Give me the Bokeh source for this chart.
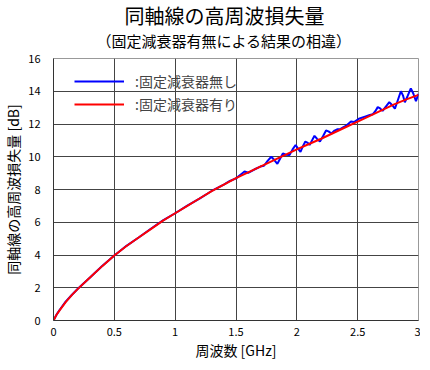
from bokeh.plotting import figure
from bokeh.models import Range1d, FixedTicker, Title, Legend, LegendItem
from bokeh.embed import file_html
from bokeh.resources import INLINE

FONT = "Noto Sans CJK JP"

title_text = "同軸線の高周波損失量"
subtitle_text = "（固定減衰器有無による結果の相違）"
x_label = "周波数 [GHz]"
y_label = "同軸線の高周波損失量 [dB]"
series_names = [":固定減衰器無し", ":固定減衰器有り"]

x_ticks = [0, 0.5, 1, 1.5, 2, 2.5, 3]
x_tick_labels = ["0", "0.5", "1", "1.5", "2", "2.5", "3"]
y_ticks = [0, 2, 4, 6, 8, 10, 12, 14, 16]
y_tick_labels = ["0", "2", "4", "6", "8", "10", "12", "14", "16"]

# without fixed attenuator (blue)
freq_blue = [0, 0.025, 0.05, 0.1, 0.15, 0.2, 0.3, 0.4, 0.5, 0.6, 0.7, 0.8, 0.9, 1.0, 1.1, 1.2, 1.3,
             1.4, 1.45, 1.5, 1.55, 1.57, 1.6, 1.65, 1.7, 1.73, 1.76, 1.79, 1.815, 1.84, 1.86,
             1.885, 1.91, 1.94, 1.965, 1.99, 2.01, 2.03, 2.05, 2.07, 2.09, 2.105, 2.125, 2.145,
             2.165, 2.19, 2.215, 2.24, 2.26, 2.285, 2.31, 2.335, 2.36, 2.38, 2.41, 2.445, 2.47,
             2.51, 2.56, 2.6, 2.625, 2.645, 2.665, 2.685, 2.705, 2.73, 2.76, 2.785, 2.806, 2.83,
             2.855, 2.872, 2.888, 2.91, 2.937, 2.958, 2.979, 3.0]
loss_blue = [0, 0.36, 0.64, 1.15, 1.56, 1.94, 2.63, 3.33, 3.97, 4.56, 5.07, 5.6, 6.11, 6.55, 7.02, 7.44, 7.91,
             8.3, 8.52, 8.68, 8.98, 9.1, 9.02, 9.22, 9.4, 9.45, 9.75, 10.0, 9.8, 9.57, 9.85,
             10.2, 10.12, 10.1, 10.45, 10.72, 10.5, 10.3, 10.65, 10.93, 10.85, 10.72, 11.0, 11.28,
             11.1, 10.93, 11.25, 11.6, 11.55, 11.42, 11.6, 11.68, 11.7, 11.8, 11.92, 12.15, 12.12,
             12.32, 12.45, 12.55, 12.6, 12.78, 13.03, 12.95, 12.8, 13.05, 13.33, 13.15, 12.93, 13.45,
             14.0, 13.75, 13.33, 13.7, 14.18, 13.85, 13.4, 13.84]

# with fixed attenuator (red)
freq_red = [0, 0.025, 0.05, 0.1, 0.15, 0.2, 0.3, 0.4, 0.5, 0.6, 0.7, 0.8, 0.9, 1.0, 1.1, 1.2, 1.3, 1.4,
            1.5, 1.6, 1.7, 1.8, 1.9, 2.0, 2.1, 2.2, 2.3, 2.4, 2.5, 2.6, 2.7, 2.8, 2.9, 3.0]
loss_red = [0, 0.35, 0.62, 1.12, 1.55, 1.93, 2.63, 3.32, 3.97, 4.55, 5.07, 5.58, 6.1, 6.55, 7.0, 7.45, 7.9, 8.3,
            8.7, 9.05, 9.4, 9.75, 10.1, 10.45, 10.78, 11.1, 11.45, 11.8, 12.15, 12.5, 12.85, 13.2, 13.5, 13.78]

p = figure(width=420, height=362, output_backend="svg", toolbar_location=None,
           x_range=Range1d(0, 3), y_range=Range1d(0, 16),
           min_border_left=0, min_border_right=2, min_border_top=48, min_border_bottom=0)
p.title = None

sub = Title(text=subtitle_text, align="left", vertical_align="bottom", text_font=FONT,
            text_font_size="15px", text_font_style="normal", text_color="#000000",
            standoff=16, offset=43)
main = Title(text=title_text, align="left", vertical_align="bottom", text_font=FONT,
             text_font_size="20px", text_font_style="normal", text_color="#000000",
             standoff=-21, offset=71)
spacer = Title(text=" ", align="left", text_font=FONT, text_font_size="1px",
               text_color="#FFFFFF", standoff=6)
p.add_layout(sub, "above")
p.add_layout(main, "above")
p.add_layout(spacer, "above")

r_blue = p.line(freq_blue, loss_blue, line_color="#0000FF", line_width=2)
r_red = p.line(freq_red, loss_red, line_color="#FF0000", line_width=2)

p.xaxis.ticker = FixedTicker(ticks=x_ticks)
p.yaxis.ticker = FixedTicker(ticks=y_ticks)
p.xaxis.major_label_overrides = dict(zip(x_ticks, x_tick_labels))
p.yaxis.major_label_overrides = dict(zip(y_ticks, y_tick_labels))

for ax in (p.xaxis, p.yaxis):
    ax.major_tick_line_color = None
    ax.minor_tick_line_color = None
    ax.axis_line_color = "#333333"
    ax.major_label_text_font = FONT
    ax.major_label_text_font_size = "11px"
    ax.major_label_text_color = "#000000"
    ax.axis_label_text_font = FONT
    ax.axis_label_text_font_size = "14px"
    ax.axis_label_text_font_style = "normal"
    ax.axis_label_text_color = "#000000"

p.xaxis.major_label_standoff = 1
p.xaxis.axis_label_standoff = 1
p.yaxis.major_label_standoff = 7
p.yaxis.axis_label_standoff = 2

p.xaxis.axis_label = x_label
p.yaxis.axis_label = y_label

p.xgrid.ticker = FixedTicker(ticks=x_ticks)
p.ygrid.ticker = FixedTicker(ticks=y_ticks)
p.grid.grid_line_color = "#444444"
p.grid.grid_line_width = 1
p.outline_line_color = "#999999"
p.outline_line_width = 1
p.background_fill_color = "#FFFFFF"
p.border_fill_color = "#FFFFFF"

legend = Legend(items=[LegendItem(label=series_names[0], renderers=[r_blue]),
                       LegendItem(label=series_names[1], renderers=[r_red])],
                location=(21, 206), padding=5, margin=0, spacing=3,
                glyph_width=50, glyph_height=20, label_height=20, label_standoff=11,
                label_text_font=FONT, label_text_font_size="14px",
                background_fill_alpha=0, border_line_color=None)
p.add_layout(legend)

open("out.html", "w").write(file_html(p, INLINE))
